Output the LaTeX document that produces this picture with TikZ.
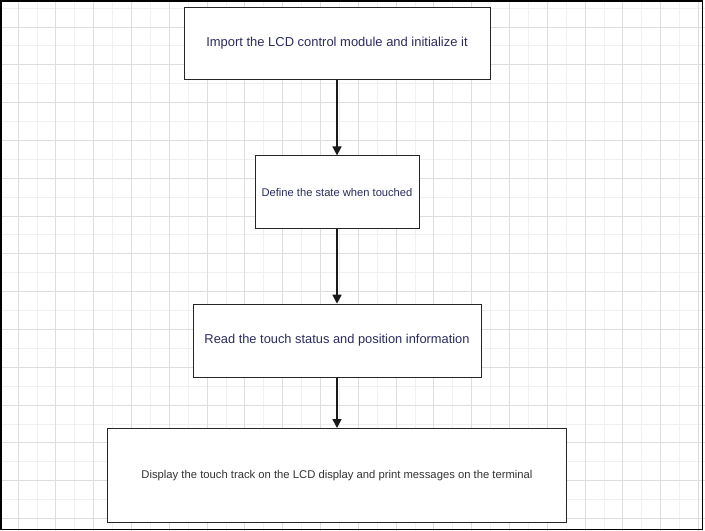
\documentclass[tikz,border=0pt]{standalone}
\usepackage{fontspec}
\setmainfont{Liberation Sans}
\usepackage{tikz}
\usetikzlibrary{positioning,arrows.meta}

\definecolor{navytext}{HTML}{2B2B5E}
\definecolor{greytext}{HTML}{333333}
\definecolor{gridmajor}{HTML}{DDDDDD}
\definecolor{gridminor}{HTML}{F0F0F0}

\tikzset{
    stepbox/.style={draw=black!85, line width=0.8bp, fill=white, align=center},
    flow/.style={-{Triangle[length=9bp,width=9bp]}, line width=1.6bp, black!90},
}

\begin{document}
\begin{tikzpicture}[x=1bp, y=-1bp]
    \useasboundingbox (0,0) rectangle (705,531);

    % grid paper
    \foreach \i in {0,...,37} {
        \draw[gridminor, line width=0.8bp] ({-0.9+18.9*\i},0) -- ++(0,531);
    }
    \foreach \i in {0,...,28} {
        \draw[gridminor, line width=0.8bp] (0,{-10.8+18.9*\i}) -- ++(705,0);
    }
    \foreach \i in {0,...,18} {
        \draw[gridmajor, line width=0.8bp] ({18+37.8*\i},0) -- ++(0,531);
    }
    \foreach \i in {0,...,13} {
        \draw[gridmajor, line width=0.8bp] (0,{27+37.8*\i}) -- ++(705,0);
    }
    \draw[black, line width=1.6bp] (0.8,0.8) rectangle (702.4,529.6);

    \node [stepbox, minimum width=306bp, minimum height=72bp, text=navytext, font=\fontsize{13}{15}\selectfont] (import) at (337,43.5) {Import the LCD control module and initialize it};
    \node [stepbox, below=75.5bp of import, minimum width=164bp, minimum height=73bp, text=navytext, font=\fontsize{11.2}{13}\selectfont] (define) {Define the state when touched};
    \node [stepbox, below=74.5bp of define, minimum width=288bp, minimum height=73bp, text=navytext, font=\fontsize{12.9}{15}\selectfont] (read) {Read the touch status and position information};
    \node [stepbox, below=50.5bp of read, minimum width=459bp, minimum height=94bp, text=greytext, font=\fontsize{11.3}{13}\selectfont] (display) {Display the touch track on the LCD display and print messages on the terminal};

    \draw[flow] (import) -- (define);
    \draw[flow] (define) -- (read);
    \draw[flow] (read) -- (display);

\end{tikzpicture}
\end{document}
